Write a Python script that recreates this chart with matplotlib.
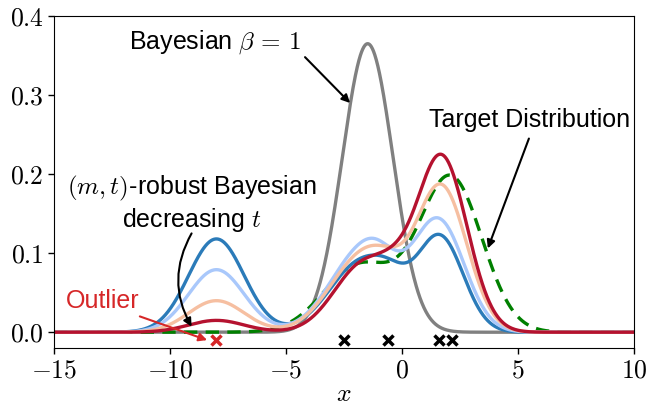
import numpy as np
import matplotlib
matplotlib.use("Agg")
import matplotlib.pyplot as plt
from matplotlib.ticker import FuncFormatter

plt.rcParams['mathtext.fontset'] = 'cm'
plt.rcParams['font.family'] = ['Liberation Sans', 'DejaVu Sans']

# observations (inliers + one outlier)
inliers = [-2.5, -0.62, 1.6, 2.14]
outlier = [-8.0]

# standard Bayesian posterior predictive
bayes_mean = -1.48
bayes_sd = 1.093

# target: two-component Gaussian mixture
target_means = [-1.8, 2.1]
target_sds = [1.55, 1.35]
target_weights = [0.33, 0.66]

# (m,t)-robust posterior predictives, one mixture per t (decreasing t)
robust_means = [
    [-8.0, -1.7, -0.5, 1.65],
    [-8.0, -1.7, -1.0, 1.6],
    [-8.0, -1.7, -0.7, 1.7],
    [-8.0, -1.6, -0.3, 1.7],
]
robust_sds = [
    [1.2, 1.4, 0.7, 1.0],
    [1.2, 1.4, 0.7, 1.1],
    [1.2, 1.4, 0.8, 1.1],
    [1.2, 1.3, 0.7, 1.1],
]
robust_weights = [
    [0.355, 0.316, 0.032, 0.296],
    [0.238, 0.362, 0.030, 0.380],
    [0.120, 0.335, 0.036, 0.502],
    [0.045, 0.285, 0.030, 0.610],
]
robust_colors = ['#2b7bb9', '#a9c8fb', '#f6bfa1', '#b5122f']


def mixture_pdf(x, means, sds, weights):
    y = np.zeros_like(x)
    for m, s, w in zip(means, sds, weights):
        y += w * np.exp(-0.5 * ((x - m) / s) ** 2) / (s * np.sqrt(2 * np.pi))
    return y


xs = np.linspace(-15, 10, 1500)

fig = plt.figure(figsize=(6.49, 4.09), dpi=100)
ax = fig.add_axes([0.0832, 0.1491, 0.8937, 0.8117])

ax.plot(xs, mixture_pdf(xs, [bayes_mean], [bayes_sd], [1.0]), color='#808080', lw=2.4)
ax.plot(xs, mixture_pdf(xs, target_means, target_sds, target_weights),
        color='green', lw=2.4, ls=(0, (4, 2.5)))
for means, sds, weights, c in zip(robust_means, robust_sds, robust_weights, robust_colors):
    ax.plot(xs, mixture_pdf(xs, means, sds, weights), color=c, lw=2.4)

ax.plot(inliers, [-0.01] * len(inliers), 'x', color='k', ms=7, mew=2.5)
ax.plot(outlier, [-0.01], 'x', color='#d62728', ms=7, mew=2.5)

ax.set_xlim(-15, 10)
ax.set_ylim(-0.02, 0.4)
ax.set_xticks([-15, -10, -5, 0, 5, 10])
ax.set_yticks([0.0, 0.1, 0.2, 0.3, 0.4])
ax.xaxis.set_major_formatter(FuncFormatter(lambda v, p: '$%g$' % v))
ax.yaxis.set_major_formatter(FuncFormatter(lambda v, p: '$%.1f$' % v))
ax.tick_params(labelsize=18.5, direction='out', length=4, width=1)
ax.set_xlabel('$x$', fontsize=18.5, labelpad=0)

arrow = dict(arrowstyle='-|>', color='k', lw=1.5, mutation_scale=12,
             shrinkA=0, shrinkB=0)
ax.text(-8.06, 0.367, r'Bayesian $\beta\,=\,1$', fontsize=18, ha='center', va='center')
ax.annotate('', xy=(-2.24, 0.29), xytext=(-4.18, 0.348), arrowprops=arrow)
ax.text(5.5, 0.268, 'Target Distribution', fontsize=18, ha='center', va='center')
ax.annotate('', xy=(3.7, 0.106), xytext=(5.47, 0.245), arrowprops=arrow)
ax.text(-9.05, 0.162, '$(m, t)$-robust Bayesian\ndecreasing $t$', fontsize=18,
        ha='center', va='center', linespacing=1.15)
ax.annotate('', xy=(-9.07, 0.007), xytext=(-9.07, 0.125),
            arrowprops=dict(arrow, connectionstyle='arc3,rad=0.28'))
ax.text(-12.9, 0.04, 'Outlier', fontsize=18, color='#d62728', ha='center', va='center')
ax.annotate('', xy=(-8.4, -0.01), xytext=(-11.3, 0.02),
            arrowprops=dict(arrow, color='#d62728'))

fig.savefig('out.png', dpi=100)
